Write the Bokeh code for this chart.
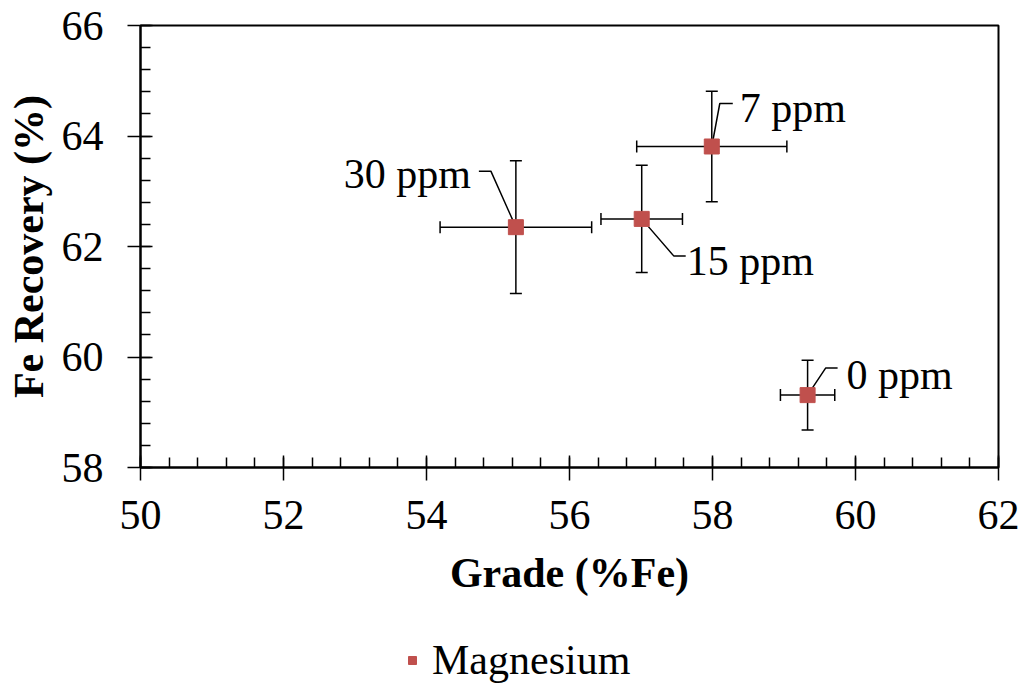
from bokeh.plotting import figure
from bokeh.layouts import column
from bokeh.models import (Range1d, SingleIntervalTicker, Whisker, TeeHead,
                          ColumnDataSource, Legend, LegendItem)
from bokeh.core.properties import value
from bokeh.embed import file_html
from bokeh.resources import INLINE

# ---- data ----
dose_labels = ["0 ppm", "7 ppm", "15 ppm", "30 ppm"]
grade = [59.33, 57.99, 57.01, 55.25]
grade_err = [0.38, 1.05, 0.57, 1.06]
recovery = [59.31, 63.81, 62.50, 62.35]
recovery_err = [0.63, 1.00, 0.97, 1.20]
series_name = "Magnesium"

# ---- style ----
X0, X1, Y0, Y1 = 50, 62, 58, 66
FW, FH = 858, 442
RED = "#C0504D"
SERIF = "Liberation Serif"
FS = "42px"
# label placement in screen pixels relative to the marker (right, down)
label_dx = [39, 28, 45, -45]
label_dy = [-20, -38, 42, -53]
label_align = ["left", "left", "left", "right"]
elbow_dx = [18, 8, 32, -25]
elbow_dy = [-27, -43, 37, -56]
end_dx = [30, 21, 44, -37]

pxx = FW / (X1 - X0)
pxy = FH / (Y1 - Y0)

p = figure(frame_width=FW, frame_height=FH,
           min_border_left=140, min_border_right=25,
           min_border_top=25, min_border_bottom=130,
           x_range=Range1d(X0, X1), y_range=Range1d(Y0, Y1),
           output_backend="svg", toolbar_location=None,
           background_fill_color="white", border_fill_color="white")
p.grid.visible = False
p.outline_line_color = "black"
p.outline_line_width = 2

for ax, ticker in ((p.xaxis[0], SingleIntervalTicker(interval=2, num_minor_ticks=5)),
                   (p.yaxis[0], SingleIntervalTicker(interval=2, num_minor_ticks=5))):
    ax.ticker = ticker
    ax.axis_line_color = "black"
    ax.axis_line_width = 2
    ax.major_tick_in = 12
    ax.major_tick_out = 13
    ax.minor_tick_in = 10
    ax.minor_tick_out = 0
    ax.major_tick_line_color = "black"
    ax.minor_tick_line_color = "black"
    ax.major_tick_line_width = 1.5
    ax.minor_tick_line_width = 1.5
    ax.major_label_text_font = SERIF
    ax.major_label_text_font_size = FS
    ax.major_label_text_color = "black"
    ax.axis_label_text_font = SERIF
    ax.axis_label_text_font_size = FS
    ax.axis_label_text_font_style = "bold"
    ax.axis_label_text_color = "black"

p.xaxis.axis_label = "Grade (%Fe)"
p.yaxis.axis_label = "Fe Recovery (%)"
p.xaxis.major_label_standoff = 20
p.xaxis.axis_label_standoff = 18
p.yaxis.major_label_standoff = 24
p.yaxis.axis_label_standoff = 7

src = ColumnDataSource(dict(
    x=grade, y=recovery,
    xl=[g - e for g, e in zip(grade, grade_err)],
    xu=[g + e for g, e in zip(grade, grade_err)],
    yl=[r - e for r, e in zip(recovery, recovery_err)],
    yu=[r + e for r, e in zip(recovery, recovery_err)],
))

for dim, base, lo, hi in (("width", "y", "xl", "xu"), ("height", "x", "yl", "yu")):
    w = Whisker(source=src, base=base, lower=lo, upper=hi, dimension=dim,
                line_color="black", line_width=1.5, level="underlay",
                upper_head=TeeHead(size=12, line_color="black", line_width=1.5),
                lower_head=TeeHead(size=12, line_color="black", line_width=1.5))
    p.add_layout(w)

# leader lines
xs, ys = [], []
for g, r, ex, ey, nx in zip(grade, recovery, elbow_dx, elbow_dy, end_dx):
    xs.append([g, g + ex / pxx, g + nx / pxx])
    ys.append([r, r - ey / pxy, r - ey / pxy])
p.multi_line(xs, ys, line_color="black", line_width=1.5)

pts = p.scatter("x", "y", source=src, marker="square", size=15,
                fill_color=RED, line_color=RED)

tsrc = ColumnDataSource(dict(
    x=[g + dx / pxx for g, dx in zip(grade, label_dx)],
    y=[r - dy / pxy for r, dy in zip(recovery, label_dy)],
    t=dose_labels, a=label_align))
p.text("x", "y", text="t", source=tsrc, text_align="a", text_baseline="middle",
       text_font=value(SERIF), text_font_size=FS, text_color="black")

# legend strip below the chart (same series; its points fall outside this strip's ranges)
q = figure(width=1023, height=86, min_border=0,
           x_range=Range1d(0, 1), y_range=Range1d(0, 1),
           x_axis_type=None, y_axis_type=None,
           output_backend="svg", toolbar_location=None,
           background_fill_color="white", border_fill_color="white")
q.grid.visible = False
q.outline_line_color = None
lg = q.scatter("x", "y", source=src, marker="square", size=14,
               fill_color=RED, line_color=RED)
legend = Legend(items=[LegendItem(label=series_name, renderers=[lg], index=0)],
                location=(262, 0), orientation="horizontal",
                padding=0, margin=0, spacing=0, label_standoff=10,
                glyph_width=20, glyph_height=20,
                label_text_font=SERIF, label_text_font_size=FS,
                label_text_color="black",
                border_line_color=None, background_fill_alpha=0)
q.add_layout(legend, "center")

layout = column(p, q, spacing=0)
open("out.html", "w").write(file_html(layout, INLINE))
